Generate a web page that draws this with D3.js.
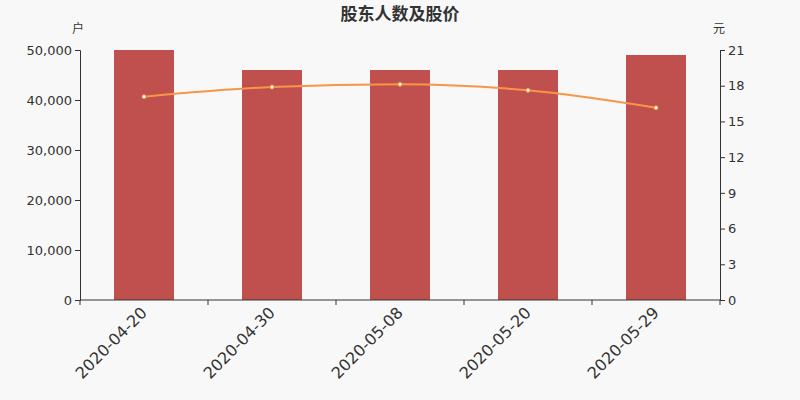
<!DOCTYPE html>
<html><head><meta charset="utf-8">
<script src="https://cdn.jsdelivr.net/npm/d3@7"></script>
<style>body{margin:0;background:#f8f8f8;}svg{display:block;font-family:"Noto Sans CJK SC","DejaVu Sans",sans-serif;}</style>
</head><body><svg id="c" width="800" height="400"></svg>
<script>
const categories = ["2020-04-20","2020-04-30","2020-05-08","2020-05-20","2020-05-29"];
const holders = [50000, 46000, 46000, 46000, 49000];
const prices = [17.08, 17.89, 18.12, 17.61, 16.15];
const leftTicks = [0,10000,20000,30000,40000,50000];
const rightTicks = [0,3,6,9,12,15,18,21];

const svg = d3.select("#c");
svg.append("rect").attr("width",800).attr("height",400).attr("fill","#f8f8f8");
const L=80,R=720,T=50,B=300;
const x = d3.scaleBand().domain(categories).range([L,R]);
const yL = d3.scaleLinear().domain([0,50000]).range([B,T]);
const yR = d3.scaleLinear().domain([0,21]).range([B,T]);
const txt="#333";

svg.append("text").attr("x",400).attr("y",20).attr("text-anchor","middle")
  .attr("font-size",17).attr("font-weight","bold").attr("fill",txt).text("股东人数及股价");
svg.append("text").attr("x",78).attr("y",33).attr("text-anchor","middle").attr("font-size",12).attr("fill",txt).text("户");
svg.append("text").attr("x",719).attr("y",33).attr("text-anchor","middle").attr("font-size",12).attr("fill",txt).text("元");

const barW = 60;
svg.selectAll(".bar").data(holders).join("rect")
  .attr("x",(d,i)=>x(categories[i])+x.bandwidth()/2-barW/2)
  .attr("width",barW).attr("y",d=>yL(d)).attr("height",d=>B-yL(d)).attr("fill","#c0504d");

const fmt = d3.format(",");
const gl = svg.append("g").attr("transform",`translate(${L},0)`)
  .call(d3.axisLeft(yL).tickValues(leftTicks).tickFormat(fmt).tickSize(5).tickPadding(3));
const gr = svg.append("g").attr("transform",`translate(${R},0)`)
  .call(d3.axisRight(yR).tickValues(rightTicks).tickSize(5).tickPadding(3));
const gx = svg.append("g").attr("transform",`translate(0,${B})`)
  .call(d3.axisBottom(x).tickSize(5).tickFormat(""));
gx.selectAll(".tick").remove();
const bounds = categories.map(c=>x(c)).concat([R]);
gx.selectAll(".bt").data(bounds).join("line").attr("x1",d=>d).attr("x2",d=>d).attr("y1",0).attr("y2",5).attr("stroke",txt);
[gl,gr,gx].forEach(g=>{
  g.select(".domain").attr("stroke",txt);
  g.selectAll(".tick line").attr("stroke",txt);
  g.selectAll(".tick text").attr("fill",txt).attr("font-size",13).attr("font-family","DejaVu Sans, sans-serif");
});
gx.select(".domain").attr("d",`M${L},0H${R}`);

svg.selectAll(".xl").data(categories).join("text")
  .attr("transform",d=>`translate(${x(d)+x.bandwidth()/2-4},${B+6}) rotate(-45)`)
  .attr("text-anchor","end").attr("dy","0.7em").attr("font-size",16).attr("fill",txt)
  .attr("font-family","DejaVu Sans, sans-serif").text(d=>d);

const line = d3.line().x((d,i)=>x(categories[i])+x.bandwidth()/2).y(d=>yR(d)).curve(d3.curveMonotoneX);
svg.append("path").datum(prices).attr("d",line).attr("fill","none").attr("stroke","#f79646").attr("stroke-width",2);
svg.selectAll(".pt").data(prices).join("circle")
  .attr("cx",(d,i)=>x(categories[i])+x.bandwidth()/2).attr("cy",d=>yR(d)).attr("r",2)
  .attr("fill","#fff").attr("stroke","#f79646").attr("stroke-width",1);
</script></body></html>
